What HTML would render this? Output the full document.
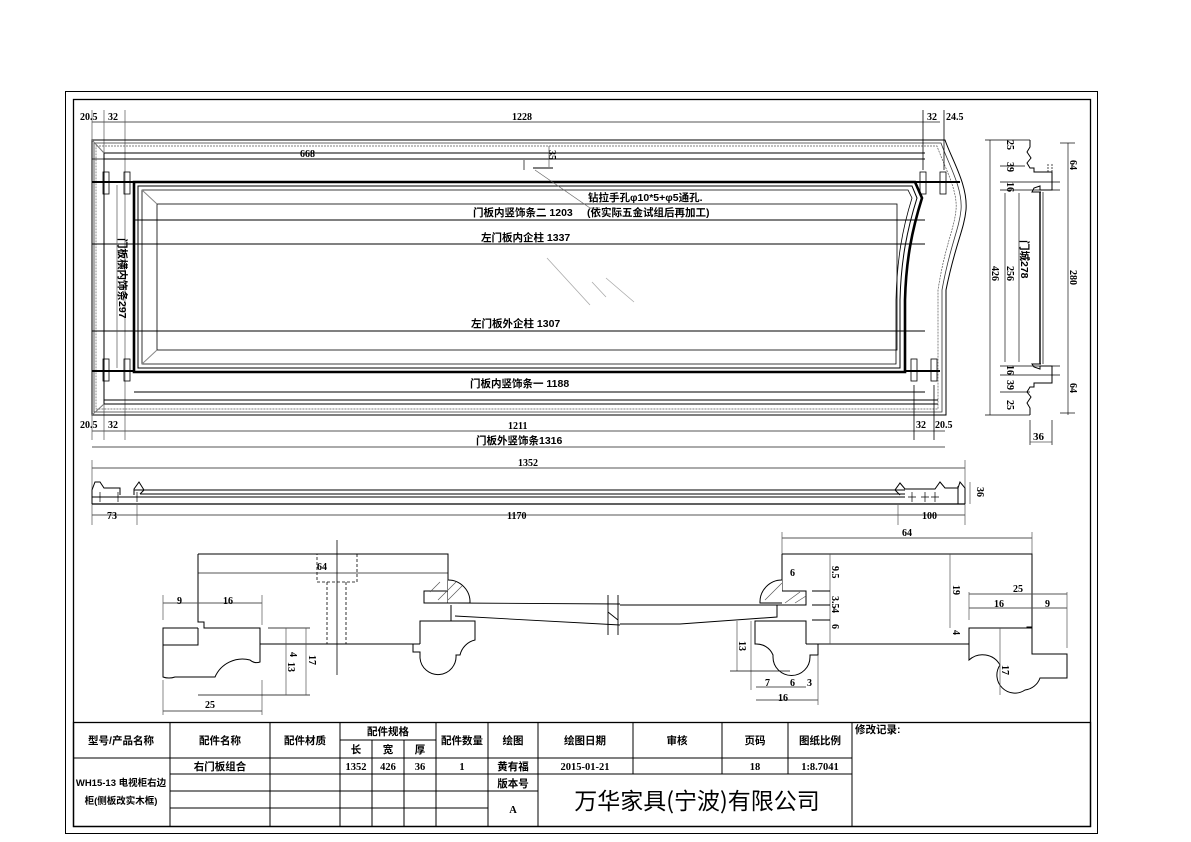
<!DOCTYPE html>
<html><head><meta charset="utf-8"><style>
html,body{margin:0;padding:0;background:#fff;}
svg{display:block;}
text{font-family:"Liberation Serif","Noto Sans CJK SC",serif;font-weight:bold;fill:#000;}
.c{font-family:"Liberation Sans","Noto Sans CJK SC",sans-serif;font-weight:bold;}
</style></head><body>
<svg width="1191" height="842" viewBox="0 0 1191 842" xmlns="http://www.w3.org/2000/svg">
<g fill="none" stroke="#000" stroke-width="1">
<rect x="65.5" y="91.5" width="1032" height="742"/>
<rect x="73.5" y="99.5" width="1017" height="727" stroke-width="1.3"/>

<line x1="92" y1="122" x2="940" y2="122" stroke="#555"/>
<line x1="92" y1="431" x2="945" y2="431" stroke="#555"/>
<line x1="92" y1="447" x2="945" y2="447" stroke="#555"/>
<line x1="92" y1="110" x2="92" y2="440" stroke="#555" stroke-width="0.7"/>
<line x1="104" y1="110" x2="104" y2="440" stroke="#555" stroke-width="0.7"/>
<line x1="125" y1="110" x2="125" y2="440" stroke="#555" stroke-width="0.7"/>
<path d="M92,140 H945 C952,160 968,185 966,210 C964,230 955,245 946,290 V415 H92 Z"/>
<path d="M94,143 H941 C948,163 963,188 961,210 C959,230 950,245 942,290 V412 H94 Z" stroke="#333" stroke-width="0.8"/>
<path d="M96,146 H937 C944,166 958,190 956,210 C954,230 945,245 938,290 V409 H96 Z" stroke="#555" stroke-width="0.7" stroke-dasharray="2,1"/>
<line x1="104" y1="153" x2="925" y2="153"/>
<line x1="104" y1="159" x2="925" y2="159"/>
<line x1="104" y1="400" x2="938" y2="400"/>
<line x1="104" y1="404" x2="938" y2="404"/>
<line x1="104" y1="153" x2="104" y2="404"/>
<line x1="92" y1="140" x2="104" y2="153" stroke="#777"/>
<line x1="92" y1="415" x2="104" y2="404" stroke="#777"/>
<path d="M134,182 H915 L922,198 C912,230 906,260 905,300 V372 H134 Z" stroke-width="2.6"/>
<path d="M138,186 H912 L917,198 C907,230 901,260 900,300 V368 H138 Z" stroke-width="1"/>
<path d="M142,190 H908 L912,198 C902,230 897,260 896,300 V364 H142 Z" stroke-width="0.8"/>
<rect x="157" y="204" width="740" height="146" stroke-width="0.8"/>
<line x1="142" y1="190" x2="157" y2="204" stroke="#888"/>
<line x1="142" y1="364" x2="157" y2="350" stroke="#888"/>
<line x1="92" y1="159" x2="555" y2="159" stroke-width="0.8"/>
<line x1="134" y1="220" x2="925" y2="220"/>
<line x1="92" y1="244" x2="925" y2="244"/>
<line x1="92" y1="331" x2="925" y2="331"/>
<line x1="134" y1="392" x2="925" y2="392"/>
<line x1="92" y1="182" x2="134" y2="182" stroke-width="2"/>
<line x1="92" y1="371" x2="134" y2="371" stroke-width="2"/>
<line x1="905" y1="371" x2="940" y2="371" stroke-width="2"/>
<line x1="915" y1="182" x2="960" y2="182" stroke-width="2"/>
<rect x="103" y="172" width="6" height="22" stroke-width="0.8"/>
<rect x="124" y="172" width="6" height="22" stroke-width="0.8"/>
<rect x="103" y="359" width="6" height="22" stroke-width="0.8"/>
<rect x="124" y="359" width="6" height="22" stroke-width="0.8"/>
<rect x="920" y="172" width="6" height="22" stroke-width="0.8"/>
<rect x="940" y="172" width="6" height="22" stroke-width="0.8"/>
<rect x="911" y="359" width="6" height="22" stroke-width="0.8"/>
<rect x="931" y="359" width="6" height="22" stroke-width="0.8"/>
<line x1="117" y1="185" x2="117" y2="368" stroke="#555" stroke-width="0.7"/>
<line x1="923" y1="110" x2="923" y2="170" stroke-width="0.8"/>
<line x1="944" y1="110" x2="944" y2="170" stroke-width="0.8"/>
<line x1="914" y1="385" x2="914" y2="440" stroke-width="0.8"/>
<line x1="934" y1="385" x2="934" y2="440" stroke-width="0.8"/>
<line x1="533" y1="168" x2="553" y2="168"/>
<line x1="524" y1="160" x2="524" y2="170" stroke-width="0.7"/>
<line x1="549" y1="146" x2="549" y2="167" stroke="#555" stroke-width="0.7"/>
<line x1="535" y1="170" x2="590" y2="208" stroke="#666" stroke-width="0.7"/>
<line x1="590" y1="208" x2="600" y2="208" stroke="#666" stroke-width="0.7"/>
<line x1="547" y1="258" x2="590" y2="305" stroke="#aaa" stroke-width="0.8"/>
<line x1="592" y1="282" x2="606" y2="297" stroke="#aaa" stroke-width="0.8"/>
<line x1="606" y1="278" x2="634" y2="302" stroke="#aaa" stroke-width="0.8"/>

<line x1="990" y1="140" x2="990" y2="415" stroke="#333" stroke-width="0.8"/>
<line x1="1005" y1="193" x2="1005" y2="362" stroke="#333" stroke-width="0.8"/>
<line x1="1019" y1="193" x2="1019" y2="362" stroke="#333" stroke-width="0.8"/>
<line x1="1068" y1="143" x2="1068" y2="415" stroke="#333" stroke-width="0.8"/>
<line x1="985" y1="140" x2="1030" y2="140" stroke-width="0.7"/>
<line x1="985" y1="415" x2="1030" y2="415" stroke-width="0.7"/>
<line x1="1000" y1="166" x2="1025" y2="166" stroke-width="0.7"/>
<line x1="1000" y1="182" x2="1060" y2="182" stroke-width="0.7"/>
<line x1="1000" y1="190" x2="1060" y2="190" stroke-width="0.7"/>
<line x1="1000" y1="366" x2="1060" y2="366" stroke-width="0.7"/>
<line x1="1000" y1="375" x2="1060" y2="375" stroke-width="0.7"/>
<line x1="1000" y1="392" x2="1030" y2="392" stroke-width="0.7"/>
<line x1="1060" y1="143" x2="1075" y2="143" stroke-width="0.7"/>
<line x1="1060" y1="413" x2="1075" y2="413" stroke-width="0.7"/>
<path d="M1030,140 V147 L1027,152 L1031,158 L1027,163 L1030,168 H1034 V172 H1052 V190 H1040 V186 L1034,188 L1032,192 H1041"/>
<path d="M1030,415 V408 L1027,403 L1031,397 L1027,392 L1030,387 H1034 V383 H1052 V366 H1040 V369 L1034,367 L1032,364 H1041"/>
<line x1="1040" y1="192" x2="1040" y2="364" stroke-width="1.4"/>
<line x1="1043" y1="192" x2="1043" y2="364" stroke-width="0.7"/>
<line x1="1048" y1="164" x2="1048" y2="172" stroke-dasharray="2,1" stroke-width="0.7"/>
<line x1="1052" y1="164" x2="1052" y2="172" stroke-dasharray="2,1" stroke-width="0.7"/>
<line x1="1030" y1="420" x2="1030" y2="445" stroke-width="0.7"/>
<line x1="1052" y1="420" x2="1052" y2="445" stroke-width="0.7"/>
<line x1="1030" y1="442" x2="1052" y2="442" stroke="#555" stroke-width="0.7"/>

<line x1="92" y1="468" x2="965" y2="468" stroke="#555"/>
<line x1="92" y1="460" x2="92" y2="525" stroke="#555" stroke-width="0.7"/>
<line x1="965" y1="460" x2="965" y2="525" stroke="#555" stroke-width="0.7"/>
<line x1="92" y1="504" x2="965" y2="504" stroke-width="1.2"/>
<path d="M92,504 V490 L95,482 H100 L104,488 H120 V495"/>
<path d="M134,495 V489 L139,482 L144,490 L140,494"/>
<line x1="134" y1="490" x2="905" y2="490"/>
<line x1="140" y1="494" x2="905" y2="494"/>
<line x1="92" y1="497" x2="905" y2="497"/>
<path d="M100,492 V502 M96,497 H104 M118,492 V502 M114,497 H122 M137,492 V502" stroke-width="0.7"/>
<path d="M912,492 V502 M908,497 H916 M925,492 V502 M921,497 H929 M935,492 V502 M931,497 H939" stroke-width="0.7"/>
<path d="M900,495 L895,490 L900,483 L905,489 H935 L940,482 L945,488 H958 L960,482 L965,488 V504"/>
<line x1="958" y1="486" x2="958" y2="504"/>
<line x1="92" y1="515" x2="965" y2="515" stroke="#555"/>
<line x1="137" y1="505" x2="137" y2="525" stroke="#555" stroke-width="0.7"/>
<line x1="898" y1="505" x2="898" y2="525" stroke="#555" stroke-width="0.7"/>
<line x1="970" y1="482" x2="970" y2="504" stroke="#555" stroke-width="0.7"/>

<line x1="198" y1="573" x2="448" y2="573" stroke="#555"/>
<path d="M198,554 H448 V603 H424 V591 H448"/>
<path d="M448,580 A22,22 0 0 1 470,603 H448" fill="#fff"/>
<path d="M430,592 L440,582 M438,600 L456,582 M448,600 L462,586" stroke="#555" stroke-width="0.7"/>
<path d="M198,554 V622 H204 V628 H260 V662 A10,10 0 0 1 250,660 A30,30 0 0 0 215,677 H175 A18,18 0 0 1 163,677 V645 H163 V628 H198"/>
<path d="M163,645 H198 V628"/>
<line x1="260" y1="644" x2="420" y2="644"/>
<path d="M420,644 V621 H475 V640 A20,20 0 0 0 460,655 H456 A18,18 0 0 1 420,658 V652 H413 V644"/>
<path d="M451,605 V621"/>
<path d="M455,603 L620,604 M455,616 L620,625" stroke-width="0.9"/>
<rect x="317" y="554" width="40" height="28" stroke-dasharray="3,2" stroke-width="0.8"/>
<line x1="327" y1="582" x2="327" y2="644" stroke-dasharray="3,2" stroke-width="0.8"/>
<line x1="346" y1="582" x2="346" y2="644" stroke-dasharray="3,2" stroke-width="0.8"/>
<line x1="337" y1="540" x2="337" y2="675" stroke-width="0.8"/>
<line x1="163" y1="603" x2="262" y2="603" stroke="#555"/>
<line x1="163" y1="595" x2="163" y2="620" stroke="#555" stroke-width="0.7"/>
<line x1="262" y1="595" x2="262" y2="625" stroke="#555" stroke-width="0.7"/>
<line x1="163" y1="711" x2="262" y2="711" stroke="#555"/>
<line x1="163" y1="680" x2="163" y2="715" stroke="#555" stroke-width="0.7"/>
<line x1="262" y1="680" x2="262" y2="715" stroke="#555" stroke-width="0.7"/>
<line x1="268" y1="628" x2="310" y2="628" stroke-width="0.8"/>
<line x1="198" y1="695" x2="310" y2="695" stroke-width="0.8"/>
<line x1="286" y1="628" x2="286" y2="695" stroke="#555" stroke-width="0.7"/>
<line x1="306" y1="628" x2="306" y2="695" stroke="#555" stroke-width="0.7"/>

<path d="M608,595 V635 M618,595 V635 M608,612 L618,620" stroke-width="0.9"/>

<line x1="782" y1="538" x2="1032" y2="538" stroke="#555"/>
<line x1="782" y1="532" x2="782" y2="554" stroke="#555" stroke-width="0.7"/>
<line x1="1032" y1="532" x2="1032" y2="554" stroke="#555" stroke-width="0.7"/>
<path d="M782,554 H1032 V627 H1027 V628"/>
<path d="M782,554 V591 H806 V605 H782"/>
<path d="M782,580 A22,22 0 0 0 760,603 H782" fill="#fff"/>
<path d="M765,600 L782,583 M785,603 L800,592 M795,603 L806,596" stroke="#555" stroke-width="0.7"/>
<path d="M620,605 H782 M620,624 H680 L777,617 V605"/>
<path d="M806,644 H969"/>
<path d="M806,644 V621 H755 V644 A18,18 0 0 1 773,655 V657 A18,18 0 0 0 810,657 V655 H818 V644"/>
<path d="M969,628 H1032 V654 H1067 V678 H1040 A18,18 0 0 1 1025,690 A18,18 0 0 1 1000,665 A20,20 0 0 0 969,660 Z"/>
<line x1="751" y1="621" x2="751" y2="690" stroke="#555" stroke-width="0.7"/>
<line x1="818" y1="655" x2="818" y2="705" stroke="#555" stroke-width="0.7"/>
<line x1="756" y1="687" x2="806" y2="687" stroke="#555"/>
<line x1="756" y1="700" x2="818" y2="700" stroke="#555"/>
<line x1="737" y1="621" x2="737" y2="671" stroke="#555" stroke-width="0.7"/>
<line x1="730" y1="671" x2="790" y2="671" stroke-width="0.8"/>
<line x1="830" y1="554" x2="830" y2="644" stroke="#555" stroke-width="0.7"/>
<line x1="812" y1="591" x2="830" y2="591"/><line x1="812" y1="605" x2="830" y2="605"/><line x1="812" y1="620" x2="830" y2="620"/>
<line x1="950" y1="554" x2="950" y2="628" stroke="#555" stroke-width="0.7"/>
<line x1="969" y1="608" x2="1067" y2="608" stroke="#555"/>
<line x1="969" y1="594" x2="1067" y2="594" stroke="#555"/>
<line x1="969" y1="592" x2="969" y2="620" stroke="#555" stroke-width="0.7"/>
<line x1="1067" y1="592" x2="1067" y2="648" stroke="#555" stroke-width="0.7"/>
<line x1="1000" y1="628" x2="1000" y2="695" stroke="#555" stroke-width="0.7"/>

<g stroke-width="1">
<rect x="73.5" y="722.5" width="1017" height="104" stroke-width="1.3"/>
<line x1="73" y1="758" x2="852" y2="758"/>
<line x1="170" y1="774" x2="852" y2="774"/>
<line x1="170" y1="791" x2="538" y2="791"/>
<line x1="170" y1="808" x2="488" y2="808"/>
<line x1="340" y1="740" x2="436" y2="740"/>
<line x1="170" y1="722" x2="170" y2="826"/>
<line x1="270" y1="722" x2="270" y2="826"/>
<line x1="340" y1="722" x2="340" y2="826"/>
<line x1="372" y1="740" x2="372" y2="826"/>
<line x1="404" y1="740" x2="404" y2="826"/>
<line x1="436" y1="722" x2="436" y2="826"/>
<line x1="488" y1="722" x2="488" y2="826"/>
<line x1="538" y1="722" x2="538" y2="826"/>
<line x1="633" y1="722" x2="633" y2="774"/>
<line x1="722" y1="722" x2="722" y2="774"/>
<line x1="788" y1="722" x2="788" y2="774"/>
<line x1="852" y1="722" x2="852" y2="826"/>
</g>
</g>

<g font-size="10">
<text x="80" y="120">20.5</text><text x="108" y="120">32</text>
<text x="512" y="120">1228</text>
<text x="927" y="120">32</text><text x="946" y="120">24.5</text>
<text x="300" y="157">668</text>
<text x="80" y="428">20.5</text><text x="108" y="428">32</text>
<text x="508" y="429">1211</text>
<text x="916" y="428">32</text><text x="935" y="428">20.5</text>
<text x="518" y="466">1352</text>
<text x="107" y="519">73</text><text x="507" y="519">1170</text><text x="922" y="519">100</text>
<text x="317" y="570">64</text>
<text x="177" y="604">9</text><text x="223" y="604">16</text>
<text x="205" y="708">25</text>
<text x="902" y="536">64</text>
<text x="790" y="576">6</text>
<text x="1013" y="592">25</text><text x="994" y="607">16</text><text x="1045" y="607">9</text>
<text x="765" y="686">7</text><text x="790" y="686">6</text><text x="807" y="686">3</text>
<text x="778" y="701">16</text>
</g>
<g font-size="10">
<text transform="translate(549,150) rotate(90)">35</text>
<text transform="translate(1007,140) rotate(90)">25</text>
<text transform="translate(1007,162) rotate(90)">39</text>
<text transform="translate(1007,182) rotate(90)">16</text>
<text transform="translate(1007,266) rotate(90)">256</text>
<text transform="translate(992,266) rotate(90)">426</text>
<text transform="translate(1007,365) rotate(90)">16</text>
<text transform="translate(1007,380) rotate(90)">39</text>
<text transform="translate(1007,400) rotate(90)">25</text>
<text transform="translate(1070,160) rotate(90)">64</text>
<text transform="translate(1070,270) rotate(90)">280</text>
<text transform="translate(1070,383) rotate(90)">64</text>
<text transform="translate(977,487) rotate(90)">36</text>
<text transform="translate(290,652) rotate(90)">4</text>
<text transform="translate(288,662) rotate(90)">13</text>
<text transform="translate(309,655) rotate(90)">17</text>
<text transform="translate(832,566) rotate(90)">9.5</text>
<text transform="translate(832,596) rotate(90)">3.5</text>
<text transform="translate(832,608) rotate(90)">4</text>
<text transform="translate(832,624) rotate(90)">6</text>
<text transform="translate(953,585) rotate(90)">19</text>
<text transform="translate(953,630) rotate(90)">4</text>
<text transform="translate(739,641) rotate(90)">13</text>
<text transform="translate(1002,665) rotate(90)">17</text>
</g>
<text x="1033" y="440" font-size="11">36</text>
<g class="c" font-size="10.5">
<text class="c" x="588" y="201">钻拉手孔φ10*5+φ5通孔.</text>
<text class="c" x="587" y="216">(依实际五金试组后再加工)</text>
<text class="c" x="473" y="216">门板内竖饰条二 1203</text>
<text class="c" x="481" y="241">左门板内企柱 1337</text>
<text class="c" x="471" y="327">左门板外企柱 1307</text>
<text class="c" x="470" y="387">门板内竖饰条一 1188</text>
<text class="c" x="476" y="444">门板外竖饰条1316</text>
<text class="c" transform="translate(119,238) rotate(90)">门板横内饰条297</text>
<text class="c" transform="translate(1021,240) rotate(90)">门城278</text>
</g>
<g class="c" font-size="10.5" text-anchor="middle">
<text class="c" x="121" y="744">型号/产品名称</text>
<text class="c" x="220" y="744">配件名称</text>
<text class="c" x="305" y="744">配件材质</text>
<text class="c" x="388" y="735">配件规格</text>
<text class="c" x="356" y="753">长</text><text class="c" x="388" y="753">宽</text><text class="c" x="420" y="753">厚</text>
<text class="c" x="462" y="744">配件数量</text>
<text class="c" x="513" y="744">绘图</text>
<text class="c" x="585" y="744">绘图日期</text>
<text class="c" x="677" y="744">审核</text>
<text class="c" x="755" y="744">页码</text>
<text class="c" x="820" y="744">图纸比例</text>
<text class="c" x="220" y="770">右门板组合</text>
<text x="356" y="770">1352</text><text x="388" y="770">426</text><text x="420" y="770">36</text>
<text x="462" y="770">1</text>
<text class="c" x="513" y="770">黄有福</text>
<text x="585" y="770">2015-01-21</text>
<text x="755" y="770">18</text>
<text x="820" y="770">1:8.7041</text>
<text class="c" x="513" y="787">版本号</text>
<text x="513" y="813">A</text>
<text class="c" x="121" y="786" font-size="9.5">WH15-13 电视柜右边</text>
<text class="c" x="121" y="804" font-size="9.5">柜(侧板改实木框)</text>
</g>
<text class="c" x="855" y="733" font-size="10.5">修改记录:</text>
<text x="697" y="809" font-size="23" text-anchor="middle" style="font-family:'Noto Sans CJK SC',sans-serif;font-weight:normal">万华家具(宁波)有限公司</text>
</svg>
</body></html>
